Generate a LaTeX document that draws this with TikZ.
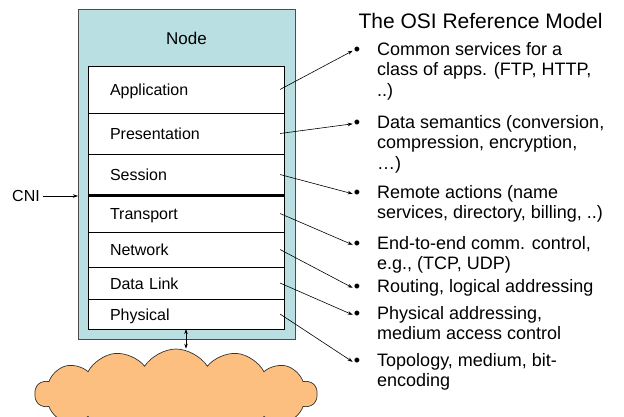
\documentclass[tikz,border=0pt]{standalone}
\usepackage{fontspec}
\setmainfont{Liberation Sans}
\usetikzlibrary{arrows.meta, shapes.symbols, positioning}

\definecolor{nodeteal}{RGB}{185,223,226}
\definecolor{cloudorange}{RGB}{253,191,127}

\begin{document}
\begin{tikzpicture}[x=1pt,y=-1pt,>={Stealth[length=5pt,width=3.5pt]},
  layer/.style={draw,fill=white,line width=0.8pt,minimum width=196pt,outer sep=0pt,
    inner xsep=22pt,text width=152pt,align=left,text height=12pt,text depth=0pt,
    font=\fontsize{16}{19}\selectfont},
  item/.style={anchor=base west,inner sep=0pt,align=left,font=\fontsize{18}{20.5}\selectfont},
  bul/.style={anchor=base,inner sep=1pt,font=\fontsize{18}{20.5}\selectfont},
  link/.style={->,line width=0.6pt}]
  \useasboundingbox (0,0) rectangle (624,416);
  \clip (0,0) rectangle (624,416);

  % the node and its stack
  \node[draw=black!70,fill=nodeteal,minimum width=217pt,minimum height=330pt,outer sep=0pt] (box) at (186.5,174) {};
  \node[anchor=base,font=\fontsize{17}{20}\selectfont] (name) at (186.5,44) {Node};

  \node[layer,minimum height=47pt,anchor=north] (app) at (186,66) {Application};
  \node[layer,minimum height=41pt] (pres) [below=0pt of app]  {Presentation};
  \node[layer,minimum height=41pt] (ses)  [below=0pt of pres] {Session};
  \node[layer,minimum height=37pt] (tra)  [below=0pt of ses]  {Transport};
  \node[layer,minimum height=35pt] (net)  [below=0pt of tra]  {Network};
  \node[layer,minimum height=32pt] (dll)  [below=0pt of net]  {Data Link};
  \node[layer,minimum height=30pt] (phy)  [below=0pt of dll]  {Physical};
  \draw[line width=3pt] (ses.south west) -- (ses.south east);

  \node[font=\fontsize{16}{19}\selectfont] (cni) at (26,196) {CNI};
  \draw[->,line width=0.6pt] (cni) -- (cni -| box.west);

  % the medium
  \node[cloud,draw=black!80,fill=cloudorange,line width=0.7pt,cloud puffs=14,cloud puff arc=115,
    cloud ignores aspect,minimum width=282pt,minimum height=90pt] (medium) at (176,394) {};
  \draw[<->,line width=0.6pt] (phy.south) -- (phy.south |- medium.north);

  % the list (last line of each item on its base)
  \node[anchor=base west,font=\fontsize{21}{24}\selectfont] (osi) at (355,28) {The OSI Reference Model};

  \node[item] (t1) at (377,96)    {Common services for a\\class of apps. (FTP, HTTP,\\..)};
  \node[item] (t2) at (377,169)   {Data semantics (conversion,\\compression, encryption,\\…)};
  \node[item] (t3) at (377,218.5) {Remote actions (name\\services, directory, billing, ..)};
  \node[item] (t4) at (377,269.5) {End-to-end comm. control,\\e.g., (TCP, UDP)};
  \node[item] (t5) at (377,292)   {Routing, logical addressing};
  \node[item] (t6) at (377,339.5) {Physical addressing,\\medium access control};
  \node[item] (t7) at (377,386.5) {Topology, medium, bit-\\encoding};

  \foreach \n/\y in {1/55,2/128,3/198,4/249,5/292,6/319,7/366}
    \node[bul] (b\n) at (357,\y) {•};

  \path[link] ([xshift=-4pt]app.east)  edge (b1.west)
              ([xshift=-4pt]pres.east) edge (b2.west)
              ([xshift=-4pt]ses.east)  edge (b3.west)
              ([xshift=-4pt]tra.east)  edge (b4.west)
              ([xshift=-4pt]net.east)  edge (b5.west)
              ([xshift=-4pt]dll.east)  edge (b6.west)
              ([xshift=-4pt]phy.east)  edge (b7.west);
\end{tikzpicture}
\end{document}
